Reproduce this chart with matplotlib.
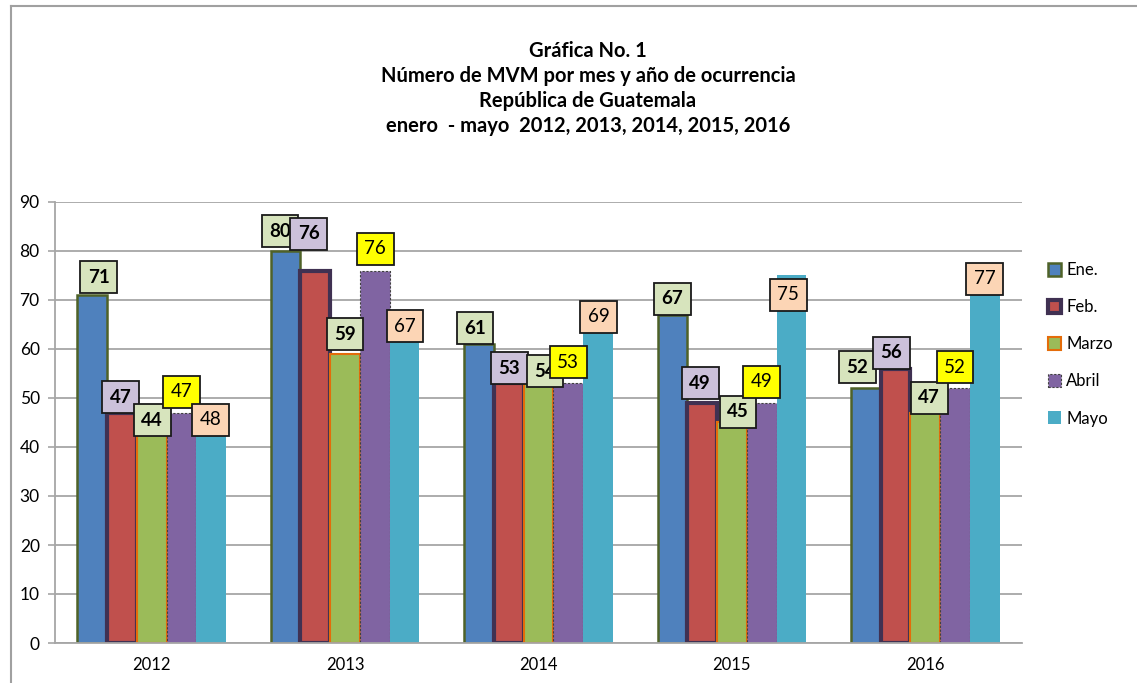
import matplotlib
matplotlib.use('Agg')
import matplotlib.pyplot as plt
from matplotlib.lines import Line2D
from matplotlib.patches import Patch
import numpy as np

# ---- data ----
years = ['2012', '2013', '2014', '2015', '2016']
months = ['Ene.', 'Feb.', 'Marzo', 'Abril', 'Mayo']
ene = [71, 80, 61, 67, 52]
feb = [47, 76, 53, 49, 56]
marzo = [44, 59, 54, 45, 47]
abril = [47, 76, 53, 49, 52]
mayo = [48, 67, 69, 75, 77]
series = [ene, feb, marzo, abril, mayo]

title_lines = ['Gráfica No. 1',
               'Número de MVM por mes y año de ocurrencia',
               'República de Guatemala',
               'enero  - mayo  2012, 2013, 2014, 2015, 2016']

# ---- styles ----
fills = ['#4F81BD', '#C0504D', '#9BBB59', '#8064A2', '#4BACC6']
edges = ['#4F6228', '#403152', '#E46C0A', '#404040', '#4BACC6']
edge_lw = [1.8, 3.0, 1.5, 0.8, 0.0]
edge_ls = ['solid', 'solid', 'solid', (0, (2, 1.5)), 'solid']
label_bg = ['#D7E4BD', '#CCC1DA', '#D7E4BD', '#FFFF00', '#FCD5B5']
label_weight = ['bold', 'bold', 'bold', 'normal', 'normal']

# label placement adjustments (pixels in x, value units in y), per series per year
label_dx_px = [[6.5, -5.5, -4, 0, -8.5],
               [-1.5, -6.5, 0.5, -2, -4],
               [0.5, 0, 6.5, 6, 4],
               [0, 0.5, 0, -0.5, 0],
               [-0.5, 0.5, 0.5, -3, 0]]
label_dy = [[3.6, 4.0, 3.2, 3.3, 4.3],
            [3.2, 7.5, 3.1, 4.0, 3.2],
            [1.5, 4.0, 1.5, 2.2, 3.1],
            [4.3, 4.5, 4.3, 4.3, 4.3],
            [-2.4, -2.4, -2.4, -3.9, -2.7]]

plt.rcParams['font.family'] = ['Lato', 'DejaVu Sans']

W, H = 1137, 683
fig = plt.figure(figsize=(W / 100, H / 100), dpi=100)
ax = fig.add_axes([55 / W, 40 / H, 967 / W, 441 / H])

x = np.arange(len(years))
w = 1 / 6.5
px_per_cat = 967 / 5.0
for k, vals in enumerate(series):
    ax.bar(x + (k - 2) * w, vals, w, color=fills[k], edgecolor=edges[k],
           linewidth=edge_lw[k], linestyle=edge_ls[k], zorder=2 + k * 0.01)

for k, vals in enumerate(series):
    for i, v in enumerate(vals):
        ax.text(x[i] + (k - 2) * w + label_dx_px[k][i] / px_per_cat,
                v + label_dy[k][i], str(v), ha='center', va='center',
                fontsize=13.5, fontweight=label_weight[k], color='black', zorder=5,
                bbox=dict(boxstyle='square,pad=0.4', facecolor=label_bg[k],
                          edgecolor='#1a1a1a', linewidth=1.3))

ax.set_xlim(-0.5, 4.5)
ax.set_ylim(0, 90)
ax.set_yticks(range(0, 91, 10))
ax.yaxis.grid(True, color='#A6A6A6', linewidth=1.3)
ax.set_axisbelow(True)
ax.set_xticks(x)
ax.set_xticklabels(years)
ax.tick_params(axis='x', length=0, labelsize=12, pad=10)
ax.tick_params(axis='y', length=5, width=1.2, color='#A6A6A6', labelsize=12.5, pad=6)
for s in ['top', 'right']:
    ax.spines[s].set_visible(False)
for s in ['left', 'bottom']:
    ax.spines[s].set_color('#A6A6A6')
    ax.spines[s].set_linewidth(1.3)

# title
baselines = [57, 82, 107, 132]
for t, yb in zip(title_lines, baselines):
    fig.text(588 / W, 1 - yb / H, t, ha='center', va='baseline',
             fontsize=14.5, fontweight='bold', color='black')

# legend
handles = [Patch(facecolor=fills[k], edgecolor=edges[k], linewidth=edge_lw[k],
                 linestyle=edge_ls[k]) for k in range(5)]
fig.legend(handles, months, loc='upper left', bbox_to_anchor=(1048 / W, 1 - 262 / H),
           frameon=False, fontsize=12, handlelength=0.8, handleheight=0.8,
           handletextpad=0.3, labelspacing=1.27, borderpad=0, borderaxespad=0)

# outer frame (left & top)
fig.add_artist(Line2D([11 / W, 11 / W], [0, 1 - 6 / H], color='#A0A0A0', lw=1.5,
                      transform=fig.transFigure))
fig.add_artist(Line2D([11 / W, 1], [1 - 6 / H, 1 - 6 / H], color='#A0A0A0', lw=1.5,
                      transform=fig.transFigure))

fig.savefig('out.png', dpi=100)
